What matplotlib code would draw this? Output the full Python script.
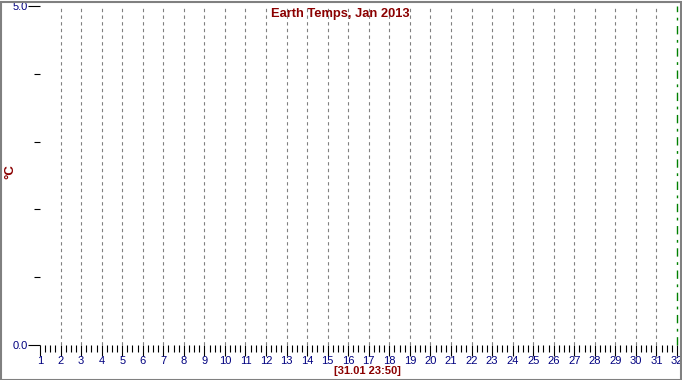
import numpy as np
import matplotlib.pyplot as plt
from matplotlib.patches import Rectangle

# chart values (the chart has no data series, only the frame)
days = list(range(1, 33))
grid_days = list(range(2, 32))
y_major = [0.0, 5.0]
y_minor = [1.0, 2.0, 3.0, 4.0]
title = "Earth Temps, Jan 2013"
xlabel = "[31.01 23:50]"
ylabel = "°C"

plt.rcParams['font.family'] = ['Liberation Sans', 'DejaVu Sans']

fig = plt.figure(figsize=(6.82, 3.8), dpi=100)
fig.patch.set_facecolor('white')
# grey window border
fig.patches.append(Rectangle((0.5 / 682, 0.5 / 380), 680.5 / 682, 378 / 380,
                             transform=fig.transFigure, fill=False,
                             edgecolor='#808080', linewidth=1.5))

ax = fig.add_axes([40 / 682, 35 / 380, 637 / 682, 339 / 380])
ax.set_xlim(days[0], days[-1])
ax.set_ylim(y_major[0], y_major[-1])
for s in ax.spines.values():
    s.set_visible(False)

for d in grid_days:
    ax.axvline(d, color='#808080', lw=0.8, ls=(0, (3, 3)))
ax.axvline(days[-1], color='green', lw=1.0, ls=(0, (6, 4, 2, 4)), clip_on=False)

ax.set_xticks(days)
ax.set_xticklabels([str(d) for d in days])
ax.set_xticks(np.arange(days[0], days[-1], 0.25), minor=True)
ax.set_yticks(y_major)
ax.set_yticklabels(["%.1f" % v for v in y_major])
ax.set_yticks(y_minor, minor=True)

ax.tick_params(axis='x', which='major', length=8, width=0.8, color='black',
               labelsize=8, labelcolor='#000080', pad=0)
ax.tick_params(axis='x', which='minor', length=5, width=0.8, color='black')
ax.tick_params(axis='y', which='major', length=9, width=0.8, color='black',
               labelsize=8, labelcolor='#000080', pad=0)
ax.tick_params(axis='y', which='minor', length=4, width=0.8, color='black')

fig.text(340 / 682, 1 - 14 / 380, title, color='#8b0000', fontsize=9.3,
         fontweight='bold', ha='center', va='center')
fig.text(367 / 682, 1 - 371 / 380, xlabel, color='#8b0000', fontsize=8,
         fontweight='bold', ha='center', va='center')
fig.text(10 / 682, 1 - 172 / 380, ylabel, color='#8b0000', fontsize=9.5,
         fontweight='bold', ha='center', va='center', rotation=90)

fig.savefig('out.png', dpi=100)
